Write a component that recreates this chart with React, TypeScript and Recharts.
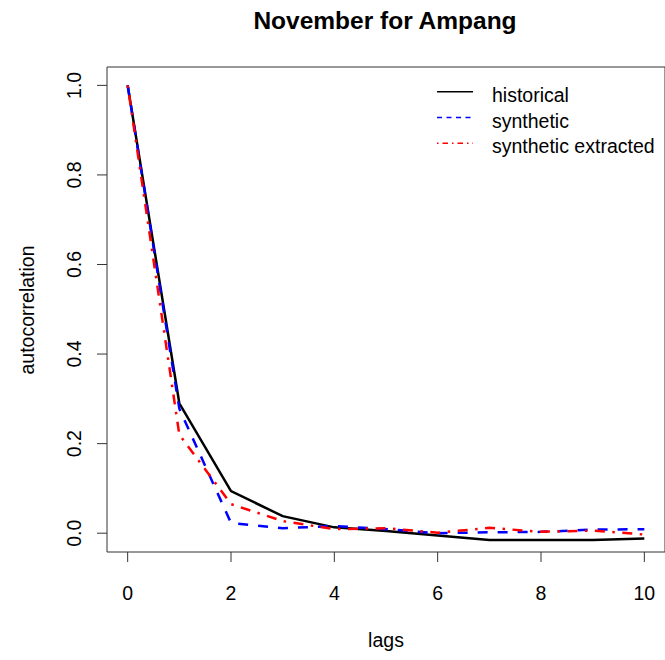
import { LineChart, Line, XAxis, YAxis, ReferenceArea, Legend } from "recharts";

const lags = [0, 1, 2, 3, 4, 5, 6, 7, 8, 9, 10];
const historical = [1.0, 0.29, 0.094, 0.038, 0.013, 0.005, -0.005, -0.015, -0.015, -0.015, -0.012];
const synthetic = [1.0, 0.278, 0.023, 0.011, 0.016, 0.009, 0.0, 0.002, 0.003, 0.008, 0.009];
const extracted = [1.0, 0.22, 0.065, 0.027, 0.009, 0.011, 0.001, 0.012, 0.003, 0.006, -0.003];

const xTicks = [0, 2, 4, 6, 8, 10];
const yTicks = [0, 0.2, 0.4, 0.6, 0.8, 1.0];

const data = lags.map((lag, i) => ({
  lag,
  historical: historical[i],
  synthetic: synthetic[i],
  extracted: extracted[i],
}));

const FONT = '"Liberation Sans", Arial, Helvetica, sans-serif';
const AXIS = "#333";

const XTick = ({ x, payload }: any) => (
  <text x={x} y={600} textAnchor="middle" fontSize={19.5} fontFamily={FONT} fill="#000">
    {payload.value}
  </text>
);

const YTick = ({ y, payload }: any) => (
  <text
    transform={`translate(81, ${y}) rotate(-90)`}
    textAnchor="middle"
    fontSize={19.5}
    fontFamily={FONT}
    fill="#000"
  >
    {Number(payload.value).toFixed(1)}
  </text>
);

const legendItems = [
  { name: "historical", color: "#000", dash: undefined },
  { name: "synthetic", color: "#0000ff", dash: "5 4.5" },
  { name: "synthetic extracted", color: "#ff0000", dash: "1.5 4 5.5 4" },
];

const LegendBox = () => (
  <svg width={233} height={84}>
    {legendItems.map((it, i) => (
      <g key={it.name}>
        <line
          x1={5}
          x2={41}
          y1={13.7 + i * 25.8}
          y2={13.7 + i * 25.8}
          stroke={it.color}
          strokeWidth={1.4}
          strokeDasharray={it.dash}
        />
        <text x={60} y={23.7 + i * 25.8} fontSize={19.5} fontFamily={FONT} fill="#000">
          {it.name}
        </text>
      </g>
    ))}
  </svg>
);

export default function App() {
  return (
    <div style={{ position: "absolute", left: 0, top: 0, width: 665, height: 660, background: "#fff" }}>
      <LineChart width={665} height={660} data={data} margin={{ top: 67, right: 0, bottom: 0, left: 0 }}>
        <XAxis
          dataKey="lag"
          type="number"
          domain={[-0.4, 10.4]}
          ticks={xTicks}
          height={108}
          axisLine={false}
          tickLine={{ stroke: AXIS }}
          tickSize={10}
          tick={<XTick />}
          allowDataOverflow
        />
        <YAxis
          type="number"
          domain={[-0.042, 1.041]}
          ticks={yTicks}
          width={107}
          axisLine={false}
          tickLine={{ stroke: AXIS }}
          tickSize={10}
          tick={<YTick />}
          allowDataOverflow
        />
        <ReferenceArea
          x1={-0.4}
          x2={10.4}
          y1={-0.042}
          y2={1.041}
          fill="none"
          stroke={AXIS}
          strokeWidth={1}
          ifOverflow="visible"
        />
        <Legend
          layout="horizontal"
          verticalAlign="middle"
          align="center"
          wrapperStyle={{ position: "absolute", left: 432, top: 78, width: 233 }}
          content={() => <LegendBox />}
        />
        <Line
          type="linear"
          dataKey="historical"
          stroke="#000"
          strokeWidth={2.5}
          dot={false}
          isAnimationActive={false}
        />
        <Line
          type="linear"
          dataKey="synthetic"
          stroke="#0000ff"
          strokeWidth={2.5}
          strokeDasharray="10 10"
          dot={false}
          isAnimationActive={false}
        />
        <Line
          type="linear"
          dataKey="extracted"
          stroke="#ff0000"
          strokeWidth={2.5}
          strokeDasharray="2.5 7.5 10 7.5"
          dot={false}
          isAnimationActive={false}
        />
      </LineChart>
      <svg
        width={665}
        height={660}
        style={{ position: "absolute", left: 0, top: 0, pointerEvents: "none" }}
      >
        <text x={385} y={28.5} textAnchor="middle" fontSize={24.5} fontWeight="bold" fontFamily={FONT} fill="#000">
          November for Ampang
        </text>
        <text x={386} y={647} textAnchor="middle" fontSize={19.5} fontFamily={FONT} fill="#000">
          lags
        </text>
        <text
          transform="translate(33.5, 310) rotate(-90)"
          textAnchor="middle"
          fontSize={19.5}
          fontFamily={FONT}
          fill="#000"
        >
          autocorrelation
        </text>
      </svg>
    </div>
  );
}
